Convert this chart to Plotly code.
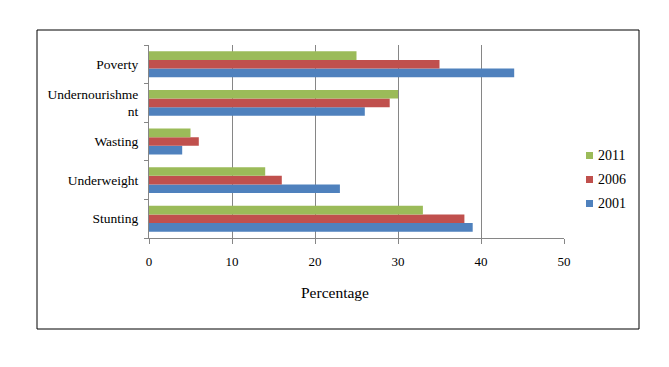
import plotly.graph_objects as go

categories = ["Stunting", "Underweight", "Wasting", "Undernourishme<br>nt", "Poverty"]
years = ["2001", "2006", "2011"]
values_2001 = [39, 23, 4, 26, 44]
values_2006 = [38, 16, 6, 29, 35]
values_2011 = [33, 14, 5, 30, 25]
colors = ["#4F81BD", "#C0504D", "#9BBB59"]
x_ticks = [0, 10, 20, 30, 40, 50]

font_family = "Liberation Serif, Times New Roman, serif"

fig = go.Figure()
for yr, vals, col in zip(years, [values_2001, values_2006, values_2011], colors):
    fig.add_trace(go.Bar(y=categories, x=vals, name=yr, orientation="h",
                         marker=dict(color=col, line=dict(width=0)),
                         showlegend=False))

# page body has an 8px margin; work in reference pixel coordinates
OFF = 8
W, H = 669, 367
L, R, T, B = 149, 564, 45, 238
pw, ph = R - L, B - T

def px(x):
    return (x - L) / pw

def py(y):
    return (B - y) / ph

shapes = [dict(type="rect", xref="paper", yref="paper",
               x0=px(37), x1=px(639), y0=py(329), y1=py(30),
               line=dict(color="black", width=1), fillcolor="rgba(0,0,0,0)",
               layer="below")]
annotations = [dict(text="Percentage", xref="paper", yref="paper",
                    x=px(335), y=py(292), showarrow=False,
                    xanchor="center", yanchor="middle",
                    font=dict(size=15.5, family=font_family))]

# legend (top to bottom: 2011, 2006, 2001)
legend_y = [203.5, 179.5, 155.5]
for yr, col, ly in zip(years, colors, legend_y):
    shapes.append(dict(type="rect", xref="paper", yref="paper",
                       x0=px(586), x1=px(593), y0=py(ly + 3.5), y1=py(ly - 3.5),
                       line=dict(width=0), fillcolor=col))
    annotations.append(dict(text=yr, xref="paper", yref="paper",
                            x=px(596), y=py(ly), showarrow=False,
                            xanchor="left", yanchor="middle",
                            font=dict(size=14, family=font_family)))

fig.update_layout(
    width=W - OFF, height=H - OFF,
    margin=dict(l=L - OFF, r=W - R, t=T - OFF, b=H - B, pad=0),
    paper_bgcolor="white", plot_bgcolor="white",
    barmode="group", bargap=0.33, bargroupgap=0,
    font=dict(family=font_family, size=13, color="black"),
    showlegend=False,
    xaxis=dict(range=[0, 50], tickvals=x_ticks, showgrid=True,
               gridcolor="#868686", gridwidth=1, zeroline=False,
               showline=True, linecolor="#868686", linewidth=1,
               ticks="outside", ticklen=5, tickcolor="#868686",
               ticklabelstandoff=6,
               tickfont=dict(size=13, family=font_family)),
    yaxis=dict(showline=True, linecolor="#868686", linewidth=1,
               ticks="outside", ticklen=4, tickcolor="#868686",
               tickson="boundaries", showgrid=False,
               ticklabelstandoff=7,
               tickfont=dict(size=13.5, family=font_family)),
    shapes=shapes,
    annotations=annotations,
)

fig.write_html("out.html")
